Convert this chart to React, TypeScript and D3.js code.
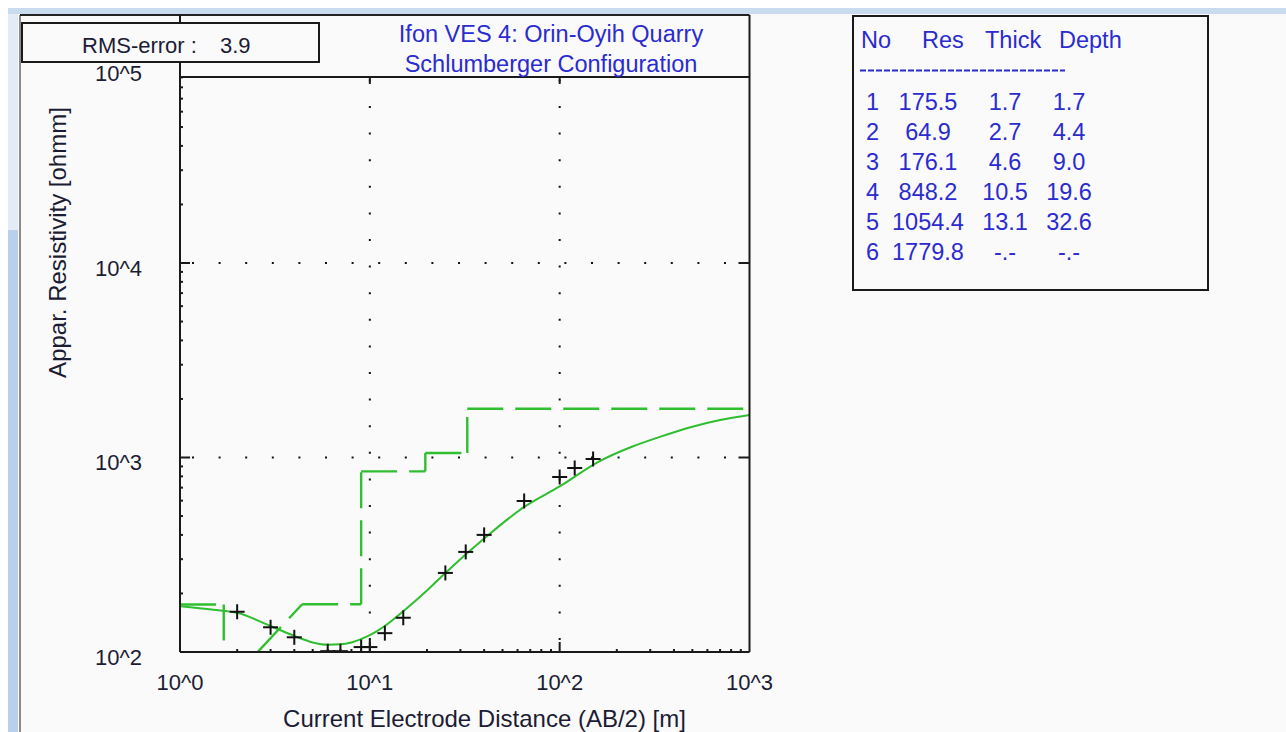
import React from 'react';
import * as d3 from 'd3';

// Measured sounding points (AB/2 in m, apparent resistivity in ohmm)
const abHalf = [2, 3, 4, 6, 7, 9, 10, 12, 15, 25, 32, 40, 65, 100, 120, 150];
const rhoObs = [161, 134, 119, 101, 101, 106, 106, 125, 150, 255, 327, 400, 598, 794, 883, 982];

// Model response curve
const curveAb = [1, 1.5, 2, 3, 4, 5, 6, 7, 8, 10, 12, 15, 20, 25, 40, 65, 100, 160, 240, 340, 500, 700, 1000];
const curveRho = [172, 165, 159, 136, 121, 112, 109, 109.5, 112, 122, 136, 162, 207, 255, 383, 557, 710, 950, 1135, 1280, 1440, 1560, 1655];

// Layer model table
const layerNo = ['1', '2', '3', '4', '5', '6'];
const layerRes = ['175.5', '64.9', '176.1', '848.2', '1054.4', '1779.8'];
const layerThick = ['1.7', '2.7', '4.6', '10.5', '13.1', '-.-'];
const layerDepth = ['1.7', '4.4', '9.0', '19.6', '32.6', '-.-'];
const tableHeader = ['No', 'Res', 'Thick', 'Depth'];

const xMajor = [1, 10, 100, 1000];
const xMajorLabels = ['10^0', '10^1', '10^2', '10^3'];
const yMajor = [100, 1000, 10000, 100000];
const yMajorLabels = ['10^2', '10^3', '10^4', '10^5'];

const titleLines = ['Ifon VES 4: Orin-Oyih Quarry', 'Schlumberger Configuration'];
const rmsLabel = 'RMS-error :';
const rmsValue = '3.9';

const W = 1286;
const H = 732;
const FONT = '"Liberation Sans", Arial, sans-serif';
const GREEN = '#2fbe2f';
const BLUE = '#2b2bd0';
const INK = '#1c1c34';

// plot area
const left = 180;
const right = 749.5;
const top = 77;
const bottom = 652;

const x = d3.scaleLog().domain([1, 1000]).range([left, right]);
const y = d3.scaleLog().domain([100, 100000]).range([bottom, bottom - 3 * 194.5]);

function minorTicks(lo: number, hi: number) {
  const out: number[] = [];
  for (let d = lo; d < hi; d *= 10) {
    for (let k = 2; k <= 9; k++) out.push(d * k);
  }
  return out;
}

export default function App() {
  const line = d3
    .line<number>()
    .x((_, i) => x(curveAb[i]))
    .y(d => y(d))
    .curve(d3.curveMonotoneX);

  // step model: each segment drawn on its own (dash pattern restarts per segment)
  const resNum = layerRes.map(Number);
  const depthNum = layerDepth.map(d => parseFloat(d));
  const pts: [number, number][] = [];
  resNum.forEach((r, i) => {
    const start = i === 0 ? 1 : depthNum[i - 1];
    const end = i < resNum.length - 1 ? depthNum[i] : 1000;
    pts.push([start, r]);
    if (r >= 100) pts.push([end, r]);
  });
  const segs = pts.slice(1).map((p, i) => [pts[i], p]);

  const xMinor = minorTicks(1, 1000);
  const yMinor = minorTicks(100, 100000);

  const colX = [866, 928, 1005, 1069];
  const headX = [861, 922, 985, 1059];

  return (
    <div style={{ position: 'fixed', left: 0, top: 0 }}>
      <svg width={W} height={H} style={{ display: 'block' }} fontFamily={FONT}>
        <defs>
          <clipPath id="plot">
            <rect x={left} y={top} width={right - left} height={bottom - top} />
          </clipPath>
        </defs>
        <rect width={W} height={H} fill="#fafafa" />
        <rect width={W} height={8} fill="#ffffff" />
        <rect x={0} y={8} width={W} height={6} fill="#c9dbee" />
        <rect x={0} y={0} width={8} height={H} fill="#ffffff" />
        <rect x={8} y={14} width={10} height={216} fill="#e3ecf6" />
        <rect x={8} y={230} width={10} height={H - 230} fill="#b9d0ea" />
        <line x1={20} y1={15} x2={20} y2={H} stroke="#666" strokeWidth={1.5} />
        <line x1={20} y1={15} x2={right} y2={15} stroke="#222" strokeWidth={2} />

        {/* dotted grid */}
        <g stroke="#111" strokeWidth={2} strokeDasharray="2 24.6">
          {[10, 100].map(v => (
            <line key={'gx' + v} x1={x(v)} x2={x(v)} y1={bottom - 12} y2={top} />
          ))}
          {[1000, 10000].map(v => (
            <line key={'gy' + v} x1={left + 12} x2={right} y1={y(v)} y2={y(v)} />
          ))}
        </g>

        <g clipPath="url(#plot)">
          {segs.map((s, i) => (
            <line
              key={'s' + i}
              x1={x(s[0][0])}
              y1={y(s[0][1])}
              x2={x(s[1][0])}
              y2={y(s[1][1])}
              stroke={GREEN}
              strokeWidth={2.4}
              strokeDasharray="36 12"
            />
          ))}
          <path d={line(curveRho) || ''} fill="none" stroke={GREEN} strokeWidth={2} />
          <g stroke="#111" strokeWidth={2}>
            {abHalf.map((a, i) => (
              <g key={'p' + i} transform={`translate(${x(a)},${y(rhoObs[i])})`}>
                <line x1={-7.5} x2={7.5} y1={0} y2={0} />
                <line x1={0} x2={0} y1={-7.5} y2={7.5} />
              </g>
            ))}
          </g>
        </g>

        {/* axes frame */}
        <g stroke="#1a1a1a" strokeWidth={2} fill="none">
          <line x1={left} y1={15} x2={left} y2={bottom} />
          <line x1={right} y1={15} x2={right} y2={bottom} />
          <line x1={left} y1={top} x2={right} y2={top} />
          <line x1={left} y1={bottom} x2={right} y2={bottom} />
          {xMinor.map(v => (
            <line key={'xm' + v} x1={x(v)} x2={x(v)} y1={bottom} y2={bottom - 3} />
          ))}
          {yMinor.filter(v => y(v) > top).map(v => (
            <line key={'ym' + v} x1={left} x2={left + 3} y1={y(v)} y2={y(v)} />
          ))}
          {[10, 100].map(v => (
            <g key={'xM' + v}>
              <line x1={x(v)} x2={x(v)} y1={bottom} y2={bottom - 10} />
              <line x1={x(v)} x2={x(v)} y1={top} y2={top + 7} />
            </g>
          ))}
          {[1000, 10000].map(v => (
            <g key={'yM' + v}>
              <line x1={left} x2={left + 10} y1={y(v)} y2={y(v)} />
              <line x1={right} x2={right - 11} y1={y(v)} y2={y(v)} />
            </g>
          ))}
        </g>

        {/* tick labels */}
        <g fill={INK} fontSize={22}>
          {xMajor.map((v, i) => (
            <text key={'xl' + v} x={x(v)} y={690} textAnchor="middle">
              {xMajorLabels[i]}
            </text>
          ))}
          {yMajor.map((v, i) => (
            <text key={'yl' + v} x={142} y={y(v) + 12.5} textAnchor="end">
              {yMajorLabels[i]}
            </text>
          ))}
        </g>

        <text x={484.5} y={727} textAnchor="middle" fontSize={24} fill={INK}>
          Current Electrode Distance (AB/2) [m]
        </text>
        <text
          transform="translate(66,242.5) rotate(-90)"
          textAnchor="middle"
          fontSize={24}
          fill={INK}
        >
          Appar. Resistivity [ohmm]
        </text>

        {/* RMS box */}
        <rect x={22} y={23} width={297} height={39} fill="#fafafa" stroke="#1a1a1a" strokeWidth={2} />
        <text x={82} y={53} fontSize={22} fill={INK}>
          {rmsLabel}
        </text>
        <text x={220} y={53} fontSize={22} fill={INK}>
          {rmsValue}
        </text>

        {/* title */}
        {titleLines.map((t, i) => (
          <text key={t} x={551} y={42 + i * 30} textAnchor="middle" fontSize={23.5} fill={BLUE}>
            {t}
          </text>
        ))}

        {/* layer table */}
        <rect x={853} y={16} width={355} height={274} fill="#fafafa" stroke="#1a1a1a" strokeWidth={2} />
        <g fill={BLUE} fontSize={23.5}>
          {tableHeader.map((h, i) => (
            <text key={h} x={headX[i]} y={48}>
              {h}
            </text>
          ))}
          {layerNo.map((n, i) => (
            <g key={'r' + n}>
              <text x={colX[0]} y={110 + i * 30}>{n}</text>
              <text x={colX[1]} y={110 + i * 30} textAnchor="middle">{layerRes[i]}</text>
              <text x={colX[2]} y={110 + i * 30} textAnchor="middle">{layerThick[i]}</text>
              <text x={colX[3]} y={110 + i * 30} textAnchor="middle">{layerDepth[i]}</text>
            </g>
          ))}
        </g>
        <line x1={860} x2={1065} y1={70.5} y2={70.5} stroke={BLUE} strokeWidth={1.8} strokeDasharray="6 2" />
      </svg>
    </div>
  );
}
